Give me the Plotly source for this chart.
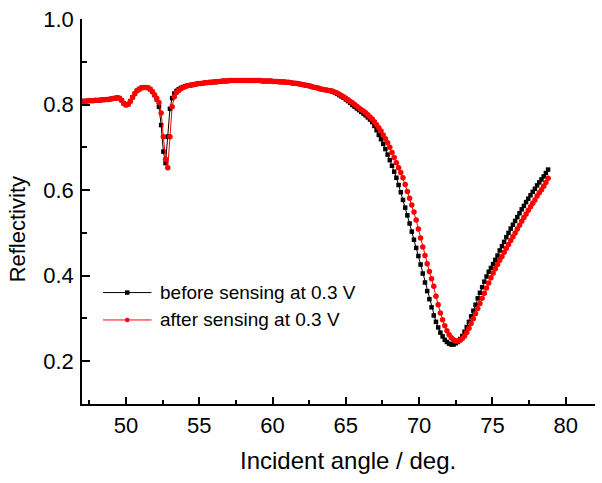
import numpy as np
import plotly.graph_objects as go

# Incident angle grid (deg), 0.15 deg steps from 47.00 to 78.80
angle = np.round(47.0 + 0.15 * np.arange(213), 2)

before_R = [
    .808, .808, .808, .809, .809, .809, .810, .810, .810, .811,
    .811, .812, .812, .813, .814, .815, .816, .815, .810, .803,
    .799, .801, .808, .817, .825, .832, .836, .839, .840, .840,
    .839, .836, .830, .822, .812, .795, .752, .690, .663, .725,
    .790, .815, .826, .832, .836, .839, .841, .843, .844, .845,
    .846, .847, .848, .849, .849, .850, .851, .851, .852, .852,
    .853, .853, .854, .854, .855, .855, .855, .856, .856, .856,
    .856, .856, .856, .856, .856, .856, .856, .856, .856, .856,
    .856, .856, .855, .855, .855, .855, .855, .854, .854, .854,
    .853, .853, .853, .852, .852, .851, .850, .850, .849, .848,
    .847, .846, .845, .844, .843, .841, .840, .839, .837, .836,
    .835, .834, .833, .832, .830, .828, .825, .822, .819, .816,
    .812, .808, .804, .799, .795, .791, .787, .783, .779, .775,
    .770, .765, .759, .750, .740, .729, .719, .708, .696, .683,
    .670, .657, .643, .629, .612, .595, .577, .559, .541, .522,
    .503, .484, .465, .446, .426, .405, .384, .364, .345, .326,
    .307, .292, .279, .267, .258, .250, .245, .241, .239, .239,
    .242, .245, .252, .259, .269, .280, .292, .305, .318, .332,
    .347, .360, .373, .386, .398, .409, .418, .427, .437, .447,
    .459, .469, .479, .490, .500, .510, .519, .528, .537, .546,
    .555, .563, .572, .580, .588, .596, .603, .611, .618, .625,
    .632, .640, .648,
]

after_R = [
    .808, .808, .808, .809, .809, .809, .810, .810, .810, .811,
    .811, .812, .812, .813, .814, .815, .816, .815, .810, .803,
    .799, .801, .808, .817, .825, .832, .836, .839, .840, .840,
    .839, .836, .830, .823, .815, .805, .780, .725, .672, .652,
    .725, .795, .818, .828, .833, .837, .840, .842, .844, .845,
    .846, .847, .848, .849, .849, .850, .851, .851, .852, .852,
    .853, .853, .854, .854, .855, .855, .855, .856, .856, .856,
    .856, .856, .856, .856, .856, .856, .856, .856, .856, .856,
    .856, .856, .855, .855, .855, .855, .855, .854, .854, .854,
    .853, .853, .853, .852, .852, .851, .850, .850, .849, .848,
    .847, .846, .845, .844, .843, .841, .840, .839, .837, .836,
    .835, .834, .833, .832, .831, .829, .827, .824, .821, .818,
    .815, .811, .807, .804, .800, .796, .792, .788, .785, .781,
    .776, .771, .766, .760, .753, .746, .738, .729, .720, .711,
    .700, .688, .676, .664, .652, .641, .629, .613, .597, .581,
    .565, .549, .530, .509, .488, .467, .447, .428, .410, .393,
    .375, .352, .332, .313, .297, .283, .271, .262, .255, .250,
    .247, .247, .249, .253, .259, .267, .277, .288, .299, .311,
    .323, .335, .347, .359, .371, .383, .395, .406, .416, .426,
    .436, .445, .455, .464, .473, .482, .491, .500, .509, .518,
    .527, .536, .544, .553, .561, .569, .577, .586, .594, .601,
    .609, .618, .628,
]

series_names = ["before sensing at 0.3 V", "after sensing at 0.3 V"]
x_ticks = [50, 55, 60, 65, 70, 75, 80]
y_ticks = [0.2, 0.4, 0.6, 0.8, 1.0]
y_tick_text = ["0.2", "0.4", "0.6", "0.8", "1.0"]

# layout geometry (pixels)
W, H = 602, 483
PL, PT, PR, PB = 82, 16, 595, 404      # plot box
PW, PH = PR - PL, PB - PT


def px_x(p):
    return (p - PL) / PW


def px_y(p):
    return (PB - p) / PH


FONT = "Arial, Liberation Sans, Helvetica, sans-serif"

fig = go.Figure()
fig.add_trace(go.Scatter(
    x=angle, y=before_R, mode="lines+markers", name=series_names[0],
    line=dict(color="black", width=1),
    marker=dict(symbol="square", size=4.5, color="black"),
    showlegend=False,
))
fig.add_trace(go.Scatter(
    x=angle, y=after_R, mode="lines+markers", name=series_names[1],
    line=dict(color="#ff0000", width=1),
    marker=dict(symbol="circle", size=5.5, color="#ff0000"),
    showlegend=False,
))

axis_common = dict(
    showline=True, linecolor="black", linewidth=1.5,
    ticks="inside", tickcolor="black", tickwidth=1.5,
    showgrid=False, zeroline=False, mirror=False,
    tickfont=dict(family=FONT, size=22, color="black"),
)

fig.update_xaxes(
    range=[47, 82], tickmode="array", tickvals=x_ticks,
    ticklen=7, ticklabelstandoff=1,
    minor=dict(dtick=2.5, tick0=0, ticklen=4, tickwidth=1.5, tickcolor="black", ticks="inside"),
    **axis_common,
)
fig.update_yaxes(
    range=[0.1, 1.0], tickmode="array", tickvals=y_ticks, ticktext=y_tick_text,
    ticklen=8, ticklabelstandoff=2,
    minor=dict(dtick=0.1, tick0=0, ticklen=5, tickwidth=1.5, tickcolor="black", ticks="inside"),
    **axis_common,
)

annotations = [
    dict(text="Incident angle / deg.", x=px_x(348), y=px_y(461), xref="paper", yref="paper",
         showarrow=False, xanchor="center", yanchor="middle",
         font=dict(family=FONT, size=24, color="black")),
    dict(text="Reflectivity", x=px_x(17), y=px_y(228), xref="paper", yref="paper",
         showarrow=False, xanchor="center", yanchor="middle", textangle=-90,
         font=dict(family=FONT, size=22, color="black")),
]

# hand-drawn legend
shapes = []
rows = [(291.7, "black", "square"), (319.3, "#ff0000", "circle")]
for (ry, col, sym), name in zip(rows, series_names):
    shapes.append(dict(type="line", xref="paper", yref="paper",
                       x0=px_x(103), x1=px_x(151.5), y0=px_y(ry), y1=px_y(ry),
                       line=dict(color=col, width=1)))
    shapes.append(dict(type="rect" if sym == "square" else "circle", xref="paper", yref="paper",
                       x0=px_x(125), x1=px_x(129.5), y0=px_y(ry - 2.25), y1=px_y(ry + 2.25),
                       fillcolor=col, line=dict(color=col, width=0)))
    annotations.append(dict(text=name, x=px_x(158), y=px_y(ry), xref="paper", yref="paper",
                            showarrow=False, xanchor="left", yanchor="middle",
                            font=dict(family=FONT, size=19, color="black")))

fig.update_layout(
    width=W, height=H,
    margin=dict(l=PL, r=W - PR, t=PT, b=H - PB),
    paper_bgcolor="white", plot_bgcolor="white",
    showlegend=False,
    annotations=annotations, shapes=shapes,
)

fig.write_html(
    "out.html",
    config={"displayModeBar": False},
    post_script="document.body.style.margin='0';document.body.style.overflow='hidden';",
)
